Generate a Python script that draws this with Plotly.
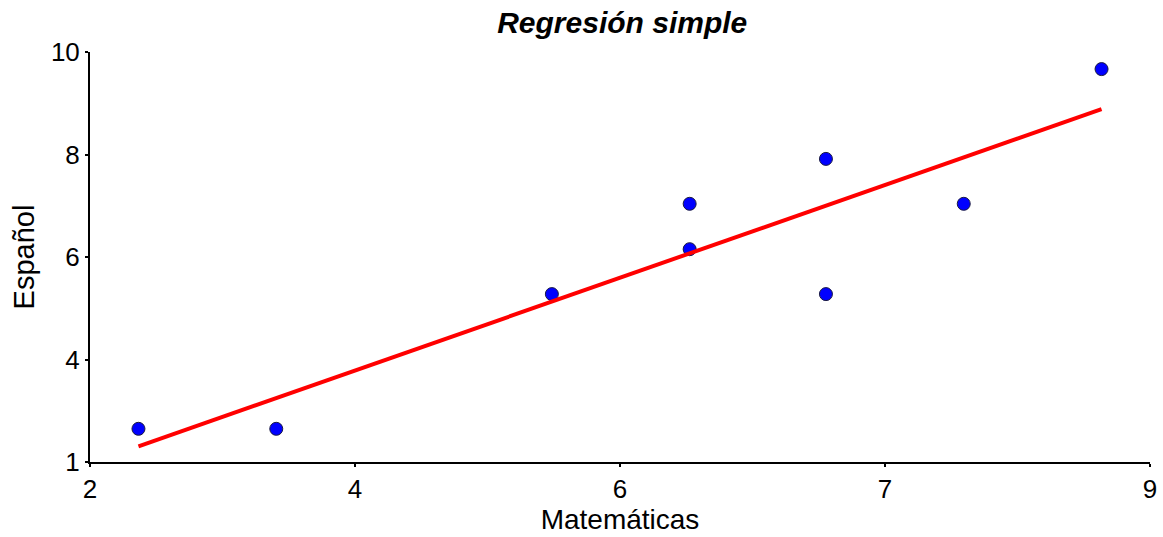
import numpy as np
import plotly.graph_objects as go

# Data
matematicas = [2.32, 3.23, 5.05, 5.96, 5.96, 6.86, 6.86, 7.77, 8.68]
espanol = [2.08, 2.08, 4.84, 5.76, 6.69, 7.61, 4.84, 6.69, 9.45]

x_tickvals = [2.0, 3.75, 5.5, 7.25, 9.0]
x_ticktext = ["2", "4", "6", "7", "9"]
y_tickvals = [1.4, 3.5, 5.6, 7.7, 9.8]
y_ticktext = ["1", "4", "6", "8", "10"]

slope, intercept = np.polyfit(matematicas, espanol, 1)
x_line = [min(matematicas), max(matematicas)]
y_line = [slope * v + intercept for v in x_line]

font = "Liberation Sans, Arial, sans-serif"

fig = go.Figure()
fig.add_trace(go.Scatter(
    x=matematicas, y=espanol, mode="markers",
    marker=dict(size=13, color="#0000ff", line=dict(color="#1a1a40", width=1)),
    showlegend=False, cliponaxis=False,
))
fig.add_trace(go.Scatter(
    x=x_line, y=y_line, mode="lines",
    line=dict(color="#ff0000", width=4),
    showlegend=False,
))

fig.update_layout(
    width=1163, height=537,
    paper_bgcolor="white", plot_bgcolor="white",
    margin=dict(l=90, r=13, t=52, b=75, autoexpand=False),
    font=dict(family=font, color="black"),
    title=dict(
        text="<b><i>Regresión simple</i></b>",
        x=0.535, xanchor="center", y=0.958, yanchor="middle",
        font=dict(size=30, family=font, color="black"),
    ),
    xaxis=dict(
        range=[2, 9], tickvals=x_tickvals, ticktext=x_ticktext, automargin=False,
        showgrid=False, zeroline=False, showline=True, linecolor="black", linewidth=2,
        ticks="outside", ticklen=3, tickwidth=2, tickcolor="black",
        tickfont=dict(size=26, family=font),
        title=dict(text="Matemáticas", font=dict(size=28, family=font), standoff=6),
    ),
    yaxis=dict(
        range=[1.4, 9.8], tickvals=y_tickvals, ticktext=y_ticktext, automargin=False,
        showgrid=False, zeroline=False, showline=True, linecolor="black", linewidth=2,
        ticks="outside", ticklen=3, tickwidth=2, tickcolor="black",
        tickfont=dict(size=26, family=font),
        title=dict(text="Español", font=dict(size=29, family=font), standoff=8),
    ),
)

fig.write_html("out.html", config={"displayModeBar": False},
               post_script="document.body.style.margin='0';")
